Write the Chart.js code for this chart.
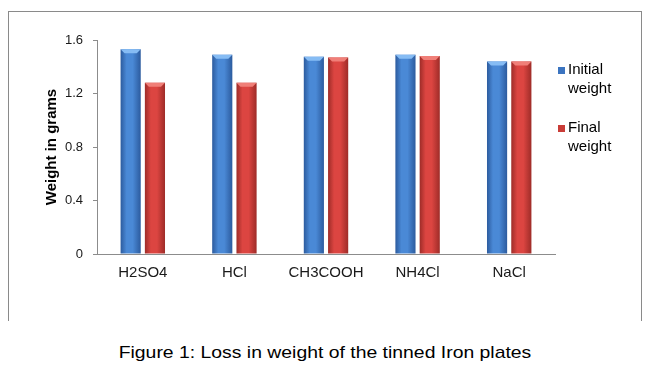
<!DOCTYPE html>
<html>
<head>
<meta charset="utf-8">
<script src="https://cdn.jsdelivr.net/npm/chart.js@4"></script>
<style>
  html, body { margin: 0; padding: 0; background: #fff; }
  body { width: 650px; height: 374px; position: relative; overflow: hidden; font-family: "Liberation Sans", Arial, sans-serif; }
  #frame { position: absolute; left: 8px; top: 11px; width: 632px; height: 309px; border: 1px solid #8a8a8a; border-bottom: none; }
  #wrap { position: absolute; left: 0; top: 0; width: 650px; height: 320px; }
  #caption { position: absolute; left: 0; width: 650px; top: 343px; text-align: center; font-size: 17px; color: #000; transform: scaleX(1.14); transform-origin: 325px 0; }
</style>
</head>
<body>
<div id="frame"></div>
<div id="wrap"><canvas id="chart" width="650" height="320"></canvas></div>
<div id="caption">Figure 1: Loss in weight of the tinned Iron plates</div>
<script>
const categories = ["H2SO4", "HCl", "CH3COOH", "NH4Cl", "NaCl"];
const initialWeight = [1.53, 1.49, 1.475, 1.49, 1.44];
const finalWeight = [1.28, 1.28, 1.47, 1.48, 1.44];
const yTicks = [0, 0.4, 0.8, 1.2, 1.6];

const CAT_PCT = 0.53;
const BAR_PCT = 0.83;
const AXIS_COLOR = "#8c8c8c";

const blue = { edge: "#2c5b9e", mid: "#4a89d6", cap: "#86bcf4", legend: "#3b74c0" };
const red = { edge: "#9e2c28", mid: "#dc4541", cap: "#f07f78", legend: "#c93c37" };

// horizontal "cylinder" shading for each bar
function barFill(pal) {
  return (ctx) => {
    const chart = ctx.chart;
    const area = chart.chartArea;
    if (!area || ctx.type !== "data") return pal.mid;
    const xs = chart.scales.x;
    const cw = (area.right - area.left) / categories.length;
    const slot = (cw * CAT_PCT) / 2;
    const bw = slot * BAR_PCT;
    const cx = xs.getPixelForValue(ctx.dataIndex) + (ctx.datasetIndex - 0.5) * slot;
    const g = chart.ctx.createLinearGradient(cx - bw / 2, 0, cx + bw / 2, 0);
    g.addColorStop(0, pal.edge);
    g.addColorStop(0.3, pal.mid);
    g.addColorStop(0.6, pal.mid);
    g.addColorStop(1, pal.edge);
    return g;
  };
}

// small light bevel on top of each bar
const capPlugin = {
  id: "caps",
  afterDatasetsDraw(chart) {
    const { ctx } = chart;
    chart.data.datasets.forEach((ds, i) => {
      const meta = chart.getDatasetMeta(i);
      meta.data.forEach((bar) => {
        const l = bar.x - bar.width / 2;
        const r = bar.x + bar.width / 2;
        ctx.save();
        ctx.fillStyle = ds.capColor;
        ctx.beginPath();
        ctx.moveTo(l, bar.y);
        ctx.lineTo(r, bar.y);
        ctx.lineTo(r - 4, bar.y + 4);
        ctx.lineTo(l + 4, bar.y + 4);
        ctx.closePath();
        ctx.fill();
        ctx.restore();
      });
    });
  },
};

// legend on the right, labels wrapped onto two lines
const sideLegend = {
  id: "sideLegend",
  afterDraw(chart) {
    const { ctx, chartArea } = chart;
    const x = chartArea.right + 3;
    const tops = [62, 120];
    ctx.save();
    ctx.font = '15px "Liberation Sans", Arial, sans-serif';
    ctx.textBaseline = "top";
    chart.data.datasets.forEach((ds, i) => {
      const y = tops[i];
      ctx.fillStyle = ds.legendColor;
      ctx.fillRect(x, y + 5, 7, 7);
      ctx.fillStyle = "#000";
      ds.label.split(" ").forEach((line, j) => {
        ctx.fillText(line, x + 10, y + j * 19);
      });
    });
    ctx.restore();
  },
};

new Chart(document.getElementById("chart"), {
  type: "bar",
  data: {
    labels: categories,
    datasets: [
      {
        label: "Initial weight",
        data: initialWeight,
        backgroundColor: barFill(blue),
        capColor: blue.cap,
        legendColor: blue.legend,
        categoryPercentage: CAT_PCT,
        barPercentage: BAR_PCT,
      },
      {
        label: "Final weight",
        data: finalWeight,
        backgroundColor: barFill(red),
        capColor: red.cap,
        legendColor: red.legend,
        categoryPercentage: CAT_PCT,
        barPercentage: BAR_PCT,
      },
    ],
  },
  options: {
    responsive: false,
    animation: false,
    layout: { padding: { left: 39, right: 95, top: 40, bottom: 0 } },
    plugins: { legend: { display: false }, tooltip: { enabled: false } },
    scales: {
      x: {
        grid: { display: false, drawTicks: false },
        border: { color: AXIS_COLOR },
        ticks: { color: "#1a1a1a", padding: 10, font: { family: '"Liberation Sans", Arial', size: 15 } },
        afterFit: (s) => { s.height = 66; },
      },
      y: {
        min: 0,
        max: 1.6,
        afterBuildTicks: (s) => { s.ticks = yTicks.map((v) => ({ value: v })); },
        grid: { drawOnChartArea: false, drawTicks: true, tickLength: 4, color: AXIS_COLOR },
        border: { color: AXIS_COLOR },
        ticks: {
          color: "#1a1a1a",
          padding: 10,
          font: { family: '"Liberation Sans", Arial', size: 13 },
          callback: (v) => (v === 0 ? "0" : v.toFixed(1)),
        },
        title: {
          display: true,
          text: "Weight in grams",
          color: "#000",
          font: { family: '"Liberation Sans", Arial', size: 15, weight: "bold" },
        },
        afterFit: (s) => { s.width = 58; },
      },
    },
  },
  plugins: [capPlugin, sideLegend],
});
</script>
</body>
</html>
